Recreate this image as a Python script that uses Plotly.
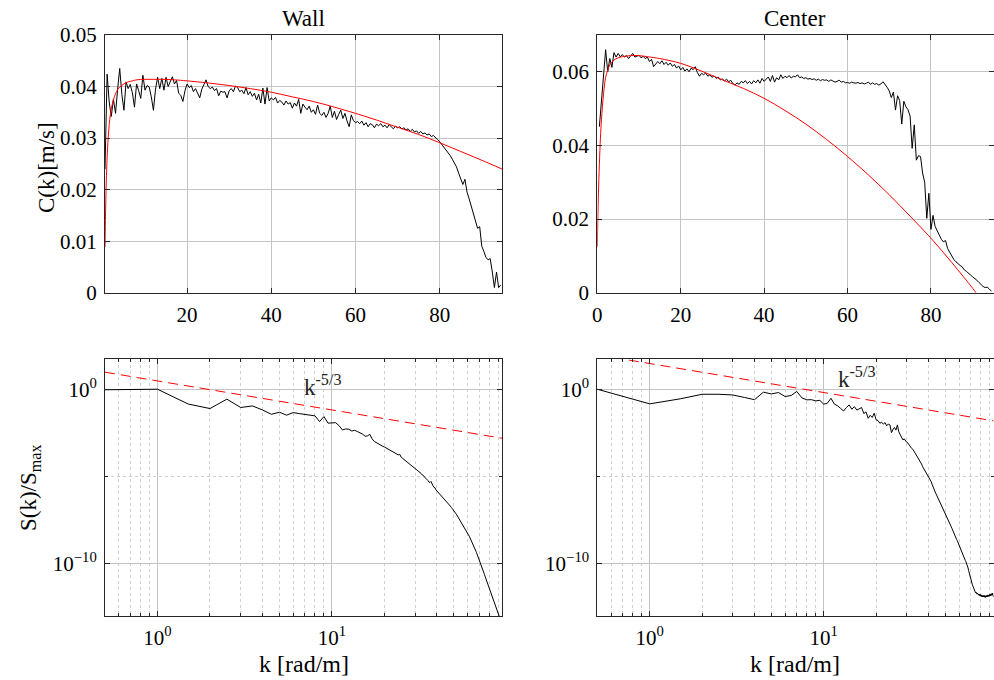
import plotly.graph_objects as go

# ---------------- data ----------------
# wavenumber grid step (rad/m); series start at k = 0.5
DK = 0.5

# Wall: C(k) [m/s]
C_wall = [
    0.0240, 0.0424, 0.0370, 0.0342, 0.0376, 0.0348, 0.0395, 0.0435, 0.0385, 0.0354,
    0.0409, 0.0396, 0.0404, 0.0388, 0.0360, 0.0405, 0.0392, 0.0377, 0.0422, 0.0393,
    0.0402, 0.0399, 0.0380, 0.0354, 0.0395, 0.0418, 0.0396, 0.0416, 0.0393, 0.0418,
    0.0400, 0.0408, 0.0419, 0.0405, 0.0412, 0.0387, 0.0383, 0.0371, 0.0392, 0.0405,
    0.0398, 0.0402, 0.0390, 0.0396, 0.0385, 0.0378, 0.0395, 0.0404, 0.0413, 0.0400,
    0.0396, 0.0399, 0.0392, 0.0396, 0.0382, 0.0391, 0.0389, 0.0390, 0.0378, 0.0392,
    0.0396, 0.0390, 0.0401, 0.0398, 0.0390, 0.0393, 0.0386, 0.0398, 0.0384, 0.0390,
    0.0381, 0.0387, 0.0374, 0.0385, 0.0368, 0.0397, 0.0366, 0.0398, 0.0372, 0.0378,
    0.0374, 0.0379, 0.0368, 0.0373, 0.0370, 0.0364, 0.0372, 0.0366, 0.0369, 0.0358,
    0.0368, 0.0362, 0.0375, 0.0348, 0.0366, 0.0360, 0.0355, 0.0362, 0.0350, 0.0355,
    0.0346, 0.0364, 0.0348, 0.0344, 0.0350, 0.0340, 0.0348, 0.0362, 0.0340, 0.0352,
    0.0336, 0.0346, 0.0354, 0.0338, 0.0348, 0.0333, 0.0322, 0.0345, 0.0334, 0.0330,
    0.0332, 0.0328, 0.0333, 0.0325, 0.0330, 0.0322, 0.0328, 0.0326, 0.0320, 0.0327,
    0.0324, 0.0328, 0.0322, 0.0325, 0.0320, 0.0326, 0.0321, 0.0318, 0.0323, 0.0320,
    0.0322, 0.0318, 0.0320, 0.0316, 0.0318, 0.0313, 0.0317, 0.0312, 0.0314, 0.0309,
    0.0313, 0.0308, 0.0310, 0.0306, 0.0308, 0.0303, 0.0305, 0.0300, 0.0297, 0.0293,
    0.0288, 0.0283, 0.0278, 0.0272, 0.0266, 0.0259, 0.0252, 0.0244, 0.0232, 0.0222,
    0.0210, 0.0220, 0.0195, 0.0182, 0.0168, 0.0155, 0.0140, 0.0125, 0.0128, 0.0090,
    0.0080, 0.0068, 0.0064, 0.0066, 0.0040, 0.0010, 0.0040, 0.0010, 0.0015,
]

# Center: C(k) [m/s]
C_center = [
    0.0451, 0.0524, 0.0578, 0.0660, 0.0600, 0.0636, 0.0612, 0.0652, 0.0640, 0.0650,
    0.0641, 0.0647, 0.0640, 0.0644, 0.0636, 0.0642, 0.0650, 0.0640, 0.0643, 0.0645,
    0.0638, 0.0642, 0.0636, 0.0640, 0.0628, 0.0634, 0.0614, 0.0620, 0.0628, 0.0622,
    0.0630, 0.0620, 0.0626, 0.0618, 0.0624, 0.0615, 0.0620, 0.0610, 0.0616, 0.0605,
    0.0612, 0.0602, 0.0608, 0.0600, 0.0610, 0.0606, 0.0614, 0.0598, 0.0588, 0.0596,
    0.0592, 0.0597, 0.0588, 0.0592, 0.0585, 0.0589, 0.0582, 0.0586, 0.0578, 0.0581,
    0.0575, 0.0580, 0.0573, 0.0577, 0.0568, 0.0564, 0.0570, 0.0566, 0.0574, 0.0570,
    0.0576, 0.0568, 0.0574, 0.0567, 0.0576, 0.0570, 0.0578, 0.0569, 0.0582, 0.0574,
    0.0580, 0.0586, 0.0574, 0.0590, 0.0572, 0.0584, 0.0578, 0.0592, 0.0582, 0.0588,
    0.0584, 0.0590, 0.0583, 0.0588, 0.0586, 0.0592, 0.0584, 0.0586, 0.0582, 0.0584,
    0.0580, 0.0582, 0.0579, 0.0581, 0.0577, 0.0580, 0.0576, 0.0579, 0.0577, 0.0578,
    0.0574, 0.0578, 0.0575, 0.0572, 0.0574, 0.0577, 0.0572, 0.0574, 0.0570, 0.0571,
    0.0569, 0.0572, 0.0570, 0.0569, 0.0571, 0.0568, 0.0570, 0.0567, 0.0569, 0.0572,
    0.0566, 0.0570, 0.0566, 0.0568, 0.0564, 0.0567, 0.0573, 0.0566, 0.0558, 0.0548,
    0.0530, 0.0545, 0.0496, 0.0535, 0.0522, 0.0458, 0.0520, 0.0505, 0.0497, 0.0480,
    0.0392, 0.0456, 0.0360, 0.0372, 0.0370, 0.0325, 0.0300, 0.0202, 0.0270, 0.0172,
    0.0210, 0.0180, 0.0168, 0.0158, 0.0145, 0.0138, 0.0142, 0.0120, 0.0110, 0.0098,
    0.0090, 0.0084, 0.0078, 0.0074, 0.0070, 0.0062, 0.0058, 0.0052, 0.0048, 0.0043,
    0.0039, 0.0034, 0.0028, 0.0022, 0.0017, 0.0014, 0.0015, 0.0010, 0.0004,
]

# fitted model curves (red)
k_fit_wall = [0.5, 0.6, 0.7, 0.8, 0.9, 1.0, 1.25, 1.5, 1.75, 2, 2.5, 3, 3.5, 4, 5, 6, 7, 8,
              10, 12, 14, 17, 20, 25, 30, 35, 40, 45, 50, 55, 60, 65, 70, 75, 80, 85, 90, 94.8]
C_fit_wall = [0.0089, 0.0140, 0.0180, 0.0215, 0.0240, 0.0262, 0.0300, 0.0326, 0.0344, 0.0357,
              0.0374, 0.0386, 0.0394, 0.0399, 0.0405, 0.0409, 0.0411, 0.0413, 0.0414, 0.0414,
              0.0414, 0.0413, 0.0411, 0.0407, 0.0402, 0.0396, 0.0389, 0.0380, 0.0371, 0.0360,
              0.0348, 0.0335, 0.0321, 0.0307, 0.0291, 0.0274, 0.0257, 0.0240]

k_fit_center = [0, 0.25, 0.5, 0.75, 1, 1.5, 2, 2.5, 3, 4, 5, 6, 8, 10, 12, 15, 20, 25, 30,
                35, 40, 45, 50, 55, 60, 65, 70, 75, 80, 85, 90, 90.8]
C_fit_center = [0.0125, 0.0260, 0.0350, 0.0420, 0.0470, 0.0540, 0.0585, 0.0605, 0.0619,
                0.0632, 0.0638, 0.0641, 0.0644, 0.0644, 0.0641, 0.0636, 0.0623, 0.0602,
                0.0578, 0.0555, 0.0528, 0.0495, 0.0458, 0.0416, 0.0370, 0.0320, 0.0266,
                0.0208, 0.0148, 0.0082, 0.0012, 0.0]

# normalised spectra, stored as log10(S/Smax)
logS_wall = [
    -0.03, 0.00, -0.85, -1.11, -0.57, -1.05, -0.96, -1.19, -1.44, -1.32,
    -1.49, -1.34, -1.40, -1.44, -1.48, -1.53, -1.86, -1.57, -1.95, -1.92,
    -1.92, -2.10, -2.34, -2.28, -2.30, -2.40, -2.36, -2.43, -2.50, -2.58,
    -2.70, -2.68, -2.59, -2.85, -3.00, -3.08, -3.15, -3.22, -3.27, -3.32,
    -3.38, -3.43, -3.47, -3.55, -3.58, -3.66, -3.70, -3.77, -3.74, -3.92,
    -3.98, -4.05, -4.08, -4.16, -4.20, -4.27, -4.33, -4.40, -4.47, -4.55,
    -4.60, -4.68, -4.72, -4.80, -4.84, -4.93, -4.96, -5.05, -5.10, -5.20,
    -5.24, -5.33, -5.36, -5.30, -5.50, -5.55, -5.64, -5.66, -5.78, -5.84,
    -5.90, -5.95, -6.01, -6.08, -6.12, -6.18, -6.22, -6.30, -6.34, -6.42,
    -6.46, -6.52, -6.57, -6.64, -6.68, -6.75, -6.79, -6.86, -6.91, -6.98,
    -7.04, -7.10, -7.16, -7.22, -7.29, -7.34, -7.42, -7.47, -7.54, -7.60,
    -7.66, -7.73, -7.79, -7.86, -7.92, -7.99, -8.05, -8.12, -8.18, -8.26,
    -8.32, -8.40, -8.47, -8.55, -8.62, -8.70, -8.77, -8.85, -8.92, -9.00,
    -9.08, -9.16, -9.23, -9.31, -9.39, -9.47, -9.55, -9.63, -9.71, -9.80,
    -9.88, -9.97, -10.05, -10.14, -10.22, -10.31, -10.40, -10.48, -10.57, -10.66,
    -10.74, -10.83, -10.91, -11.00, -11.08, -11.16, -11.25, -11.33, -11.41, -11.49,
    -11.57, -11.65, -11.73, -11.81, -11.89, -11.97, -12.05, -12.13, -12.21, -12.29,
    -12.36, -12.43, -12.50, -12.57, -12.64, -12.71, -12.78, -12.85, -12.92, -12.99,
    -13.05, -13.11, -13.17, -13.23, -13.29, -13.35, -13.40, -13.45, -13.50,
]

logS_center = [
    0.00, -0.84, -0.55, -0.29, -0.29, -0.33, -0.47, -0.60, -0.17, -0.27,
    -0.19, -0.42, -0.36, -0.13, -0.50, -0.61, -0.60, -0.67, -0.64, -0.86,
    -0.80, -0.52, -0.85, -0.95, -1.10, -1.25, -1.05, -0.90, -1.15, -1.00,
    -1.20, -1.10, -1.05, -1.40, -1.30, -1.67, -1.50, -1.62, -1.38, -1.75,
    -1.80, -1.95, -1.90, -2.00, -1.92, -2.10, -2.00, -2.05, -2.49, -2.30,
    -2.20, -2.35, -2.05, -2.45, -2.60, -2.75, -2.91, -2.85, -3.00, -3.05,
    -3.10, -3.22, -3.28, -3.40, -3.45, -3.56, -3.62, -3.75, -3.82, -3.95,
    -4.02, -4.18, -4.30, -4.45, -4.55, -4.62, -4.72, -4.80, -4.88, -4.97,
    -5.08, -5.20, -5.32, -5.48, -5.62, -5.80, -5.86, -5.98, -6.08, -6.18,
    -6.27, -6.38, -6.46, -6.57, -6.66, -6.76, -6.85, -6.95, -7.04, -7.14,
    -7.22, -7.33, -7.41, -7.52, -7.60, -7.71, -7.80, -7.90, -7.99, -8.10,
    -8.18, -8.28, -8.36, -8.46, -8.54, -8.63, -8.70, -8.80, -8.88, -8.97,
    -9.05, -9.14, -9.22, -9.33, -9.42, -9.52, -9.60, -9.68, -9.76, -9.83,
    -9.90, -9.98, -10.05, -10.15, -10.27, -10.42, -10.56, -10.70, -10.82, -10.95,
    -11.05, -11.15, -11.24, -11.32, -11.42, -11.50, -11.58, -11.63, -11.70, -11.66,
    -11.74, -11.78, -11.72, -11.80, -11.75, -11.84, -11.78, -11.88, -11.80, -11.90,
    -11.82, -11.92, -11.85, -11.94, -11.86, -11.93, -11.84, -11.95, -11.88, -11.96,
    -11.86, -11.93, -11.85, -11.92, -11.82, -11.90, -11.83, -11.91, -11.80, -11.88,
    -11.78, -11.86, -11.76, -11.84, -11.74, -11.83, -11.72, -11.80, -11.95,
]

# k^-5/3 reference lines (end points)
k_ref = [0.5, 94.5]
S_ref_wall = [9.52, 1.53e-3]
S_ref_center = [95.2, 1.53e-2]

# ---------------- figure ----------------
def kgrid(n):
    return [DK * (i + 1) for i in range(n)]

FONT = "Liberation Serif"
AX = "#262626"
GRID = "#c4c4c4"
BLACK = "#000000"
RED = "#ff0000"

fig = go.Figure()

def line(x, y, xa, ya, color, dash="solid", shape="linear"):
    fig.add_trace(go.Scatter(x=x, y=y, xaxis=xa, yaxis=ya, mode="lines",
                             line=dict(color=color, width=1, dash=dash, shape=shape),
                             showlegend=False, hoverinfo="skip"))

line(kgrid(len(C_wall)), C_wall, "x", "y", BLACK)
line(k_fit_wall, C_fit_wall, "x", "y", RED, shape="spline")
line(kgrid(len(C_center)), C_center, "x2", "y2", BLACK)
line(k_fit_center, C_fit_center, "x2", "y2", RED, shape="spline")

line(kgrid(len(logS_wall)), [10 ** v for v in logS_wall], "x3", "y3", BLACK)
line(k_ref, S_ref_wall, "x3", "y3", RED, dash="10px,6px")
line(kgrid(len(logS_center)), [10 ** v for v in logS_center], "x4", "y4", BLACK)
line(k_ref, S_ref_center, "x4", "y4", RED, dash="10px,6px")

W, H = 994, 680
xdL = [105 / W, 502 / W]
xdR = [597.3 / W, 993.5 / W]
ydT = [1 - 292.7 / H, 1 - 35 / H]
ydB = [1 - 616 / H, 1 - 359.3 / H]

tickfont = dict(family=FONT, size=21, color="black")
common = dict(showline=True, linecolor=AX, linewidth=1, mirror="ticks",
              ticks="inside", ticklen=5, tickcolor=AX, tickfont=tickfont,
              ticklabelstandoff=3, automargin=False,
              showgrid=True, gridcolor=GRID, gridwidth=1, zeroline=False)

minor_x_vals = [0.6, 0.7, 0.8, 0.9, 2, 3, 4, 5, 6, 7, 8, 9, 20, 30, 40, 50, 60, 70, 80, 90]
minor_common = dict(ticks="inside", ticklen=3, tickcolor=AX, showgrid=True,
                    gridcolor="#cfcfcf", griddash="dot", gridwidth=1)

fig.update_layout(
    template="none",
    width=W, height=H, autosize=False, margin=dict(l=0, r=0, t=0, b=0, pad=0),
    paper_bgcolor="white", plot_bgcolor="white",
    font=dict(family=FONT, color="black"),
    xaxis=dict(domain=xdL, anchor="y", range=[0.5, 94.8], tickvals=[20, 40, 60, 80], **common),
    yaxis=dict(domain=ydT, anchor="x", range=[0, 0.05], tickvals=[0, 0.01, 0.02, 0.03, 0.04, 0.05],
               ticktext=["0", "0.01", "0.02", "0.03", "0.04", "0.05"], **common),
    xaxis2=dict(domain=xdR, anchor="y2", range=[0, 95], tickvals=[0, 20, 40, 60, 80], **common),
    yaxis2=dict(domain=ydT, anchor="x2", range=[0, 0.07], tickvals=[0, 0.02, 0.04, 0.06],
                ticktext=["0", "0.02", "0.04", "0.06"], **common),
    xaxis3=dict(domain=xdL, anchor="y3", type="log", range=[-0.301, 1.9754],
                tickvals=[1, 10], ticktext=["10<sup>0</sup>", "10<sup>1</sup>"],
                minor=dict(tickvals=minor_x_vals, **minor_common), **common),
    yaxis3=dict(domain=ydB, anchor="x3", type="log", range=[-13.03, 1.72],
                tickvals=[1e-10, 1], ticktext=["10<sup>−10</sup>", "10<sup>0</sup>"],
                minor=dict(tickvals=[1e-5], **minor_common), **common),
    xaxis4=dict(domain=xdR, anchor="y4", type="log", range=[-0.301, 1.9754],
                tickvals=[1, 10], ticktext=["10<sup>0</sup>", "10<sup>1</sup>"],
                minor=dict(tickvals=minor_x_vals, **minor_common), **common),
    yaxis4=dict(domain=ydB, anchor="x4", type="log", range=[-13.03, 1.72],
                tickvals=[1e-10, 1], ticktext=["10<sup>−10</sup>", "10<sup>0</sup>"],
                minor=dict(tickvals=[1e-5], **minor_common), **common),
)

def pann(text, x, y, size=23, angle=0, xanchor="center", yanchor="middle"):
    fig.add_annotation(text=text, x=x, y=y, xref="paper", yref="paper", showarrow=False,
                       textangle=angle, xanchor=xanchor, yanchor=yanchor,
                       font=dict(family=FONT, size=size, color="black"))

pann("Wall", (xdL[0] + xdL[1]) / 2, 1 - 18 / H)
pann("Center", (xdR[0] + xdR[1]) / 2, 1 - 18 / H)
pann("C(k)[m/s]", 46 / W, 1 - 168 / H, angle=-90)
pann("S(k)/S<sub>max</sub>", 30 / W, 1 - 488 / H, angle=-90)
pann("k [rad/m]", (xdL[0] + xdL[1]) / 2, 1 - 664 / H, size=24)
pann("k [rad/m]", (xdR[0] + xdR[1]) / 2, 1 - 664 / H, size=24)

fig.add_annotation(text="k<sup>-5/3</sup>", x=0.826, y=-0.75, xref="x3", yref="y3",
                   showarrow=False, xanchor="left", yanchor="bottom",
                   font=dict(family=FONT, size=23, color="#222222"))
fig.add_annotation(text="k<sup>-5/3</sup>", x=1.069, y=-0.25, xref="x4", yref="y4",
                   showarrow=False, xanchor="left", yanchor="bottom",
                   font=dict(family=FONT, size=23, color="#222222"))

fig.write_html("out.html")
